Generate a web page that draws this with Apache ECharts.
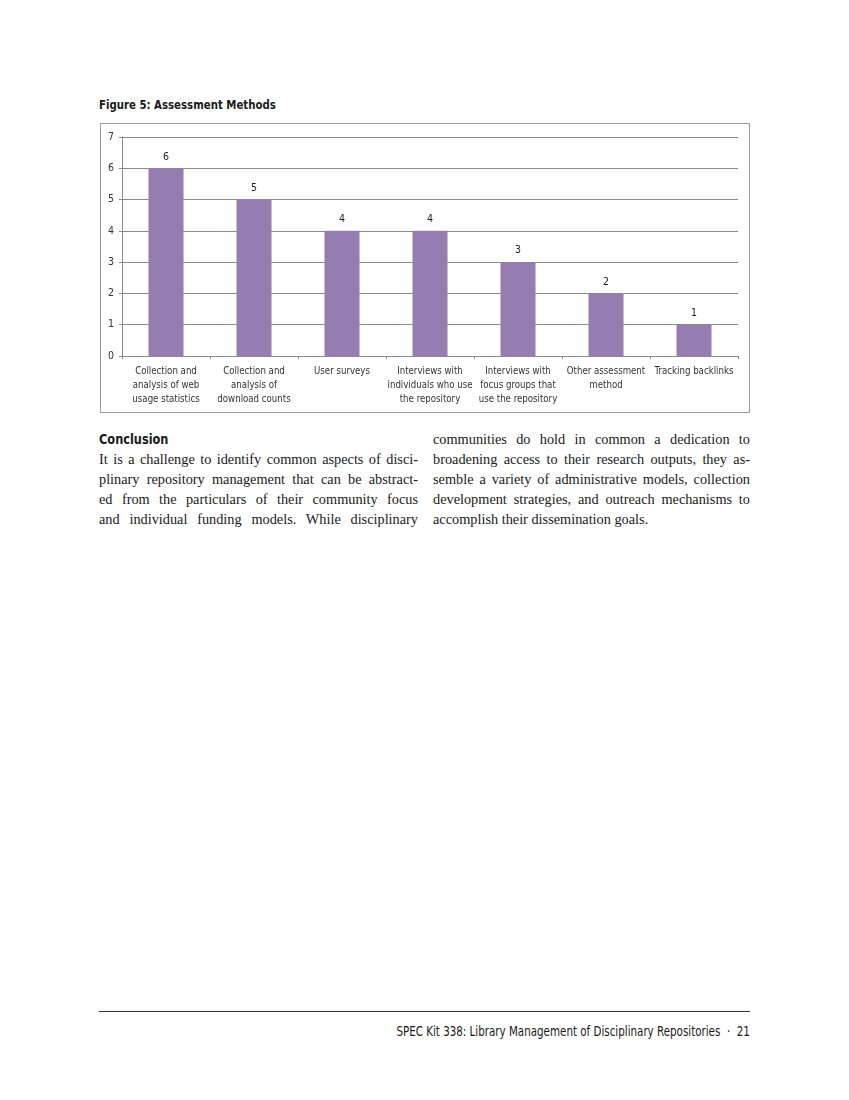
<!DOCTYPE html>
<html>
<head>
<meta charset="utf-8">
<script src="https://cdn.jsdelivr.net/npm/echarts@6/dist/echarts.min.js"></script>
<style>
  html, body { margin: 0; padding: 0; background: #fff; }
  body { width: 849px; height: 1100px; position: relative; overflow: hidden; }
  .sans { font-family: "DejaVu Sans Condensed", "DejaVu Sans", sans-serif; font-stretch: condensed; }
  .title { position: absolute; left: 99px; top: 97px; font-weight: bold; font-size: 13px; color: #1a1a1a; transform: scaleX(0.87); transform-origin: left top; white-space: nowrap; }
  #chart { position: absolute; left: 100px; top: 123px; width: 648px; height: 288px; border: 1px solid #9a9a9a; }
  .col { position: absolute; top: 429px; font-family: "Liberation Serif", "DejaVu Serif", serif; font-size: 14.3px; line-height: 20px; color: #1a1a1a; }
  .col .ln { display: block; text-align: justify; text-align-last: justify; white-space: nowrap; height: 20px; }
  .col .ln.last { text-align-last: left; }
  .col h3 { margin: 0; font-weight: bold; font-size: 14.5px; line-height: 20px; height: 20px; transform: scaleX(0.87); transform-origin: left top; white-space: nowrap; }
  .left { left: 99px; width: 319px; }
  .right { left: 433px; width: 317px; }
  .rule { position: absolute; left: 99px; top: 1011px; width: 651px; height: 1px; background: #333; }
  .footer { position: absolute; right: 99px; top: 1023px; font-size: 13.5px; color: #1a1a1a; transform: scaleX(0.85); transform-origin: right top; white-space: nowrap; }
</style>
</head>
<body>
<div class="title sans">Figure 5: Assessment Methods</div>
<div id="chart"></div>
<div class="col left">
  <h3 class="sans">Conclusion</h3>
  <span class="ln">It is a challenge to identify common aspects of disci-</span>
  <span class="ln">plinary repository management that can be abstract-</span>
  <span class="ln">ed from the particulars of their community focus</span>
  <span class="ln">and individual funding models. While disciplinary</span>
</div>
<div class="col right">
  <span class="ln">communities do hold in common a dedication to</span>
  <span class="ln">broadening access to their research outputs, they as-</span>
  <span class="ln">semble a variety of administrative models, collection</span>
  <span class="ln">development strategies, and outreach mechanisms to</span>
  <span class="ln last">accomplish their dissemination goals.</span>
</div>
<div class="rule"></div>
<div class="footer sans">SPEC Kit 338: Library Management of Disciplinary Repositories &nbsp;·&nbsp; 21</div>
<script>
const categories = [
  "Collection and\nanalysis of web\nusage statistics",
  "Collection and\nanalysis of\ndownload counts",
  "User surveys",
  "Interviews with\nindividuals who use\nthe repository",
  "Interviews with\nfocus groups that\nuse the repository",
  "Other assessment\nmethod",
  "Tracking backlinks"
];
const values = [6, 5, 4, 4, 3, 2, 1];
const yTicks = [0, 1, 2, 3, 4, 5, 6, 7];

const font = '"DejaVu Sans Condensed", "DejaVu Sans", sans-serif';
const chart = echarts.init(document.getElementById('chart'), null, { renderer: 'canvas' });
chart.setOption({
  animation: false,
  grid: { left: 21, right: 11, top: 13, bottom: 56 },
  xAxis: {
    type: 'category',
    data: categories,
    axisLine: { show: true, lineStyle: { color: '#8a8a8a', width: 1 } },
    axisTick: { show: true, alignWithLabel: false, length: 3, lineStyle: { color: '#8a8a8a' } },
    axisLabel: { interval: 0, fontFamily: font, fontSize: 9.6, color: '#333', lineHeight: 14, margin: 8 }
  },
  yAxis: {
    type: 'value',
    min: yTicks[0],
    max: yTicks[yTicks.length - 1],
    interval: 1,
    axisLine: { show: true, lineStyle: { color: '#8a8a8a', width: 1 } },
    axisTick: { show: true, inside: false, length: 3, lineStyle: { color: '#8a8a8a' } },
    axisLabel: { fontFamily: font, fontSize: 10.5, color: '#333', margin: 8 },
    splitLine: { show: true, lineStyle: { color: '#8a8a8a', width: 1 } }
  },
  series: [{
    type: 'bar',
    data: values,
    barWidth: 35,
    itemStyle: { color: '#957db1' },
    label: { show: true, position: 'top', distance: 6, fontFamily: font, fontSize: 10.5, color: '#222' }
  }]
});
</script>
</body>
</html>
